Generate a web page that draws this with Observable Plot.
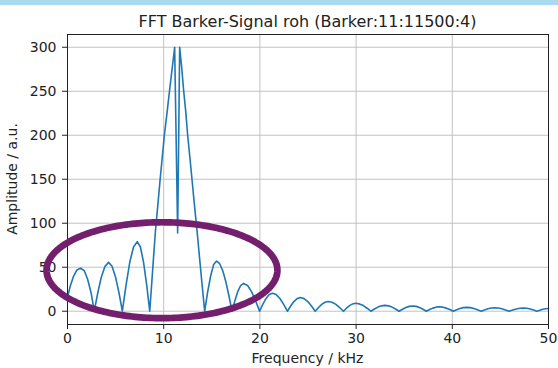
<!DOCTYPE html>
<html><head><meta charset="utf-8">
<script src="https://cdn.jsdelivr.net/npm/d3@7"></script>
<script src="https://cdn.jsdelivr.net/npm/@observablehq/plot@0.6"></script>
<style>
body{margin:0;background:#fff;}
#wrap{position:relative;width:558px;height:368px;overflow:hidden;background:#fff;}
#bar{position:absolute;left:0;top:0;width:558px;height:5px;background:#a8dbf0;}
#wrap svg{position:absolute;left:0;top:0;}
</style></head><body><div id="wrap"><div id="bar"></div></div>
<script>
const freqKHz = [
  0,0.3,0.6,0.95,1.35,1.75,2.1,2.45,2.78,
  3.15,3.52,3.9,4.27,4.63,4.99,5.35,5.7,
  6.09,6.48,6.86,7.25,7.58,7.9,8.23,8.55,
  8.75,8.95,9.14,9.4,9.63,9.85,10.07,10.35,10.6,10.88,11.14,11.45,11.66,11.87,12.08,12.3,12.49,12.72,12.94,13.2,13.47,13.75,14.0,14.26,
  14.57,14.88,15.19,15.5,15.82,16.14,16.46,16.78,17.1,
  17.4,17.7,18.0,18.3,18.72,19.13,19.55,19.97,
  20.3,20.64,20.97,21.3,21.69,22.08,22.47,22.86,
  23.2,23.53,23.87,24.2,24.59,24.98,25.36,25.75,
  26.09,26.43,26.76,27.1,27.5,27.9,28.29,28.69,
  29.0,29.32,29.63,29.95,30.35,30.75,31.14,31.54,
  31.9,32.27,32.63,33.0,33.37,33.73,34.1,34.47,
  34.83,35.17,35.53,35.9,36.25,36.6,36.95,37.3,
  37.64,37.98,38.32,38.66,39.02,39.38,39.74,40.1,
  40.45,40.8,41.15,41.5,41.87,42.25,42.62,43.0,
  43.35,43.7,44.05,44.4,44.78,45.15,45.53,45.9,
  46.28,46.65,47.03,47.4,47.75,48.1,48.45,48.8,
  49.1,49.4,49.7,50
];
const amplitude = [
  16,29,39,46.5,49,46,36,21,0,
  21,39,51,55.5,51,39,21,0,
  30,56,73,79,73,56,30,0,
  31,62,91,122,150,175,200,226,250,276,300,89,300,277,250,226,200,175,150,120,91,58,29,0,
  22,40,53,57,54,46,33.5,17.6,0,
  12,22.3,29.2,31.6,29.2,22.3,12,0,
  7.8,14.5,18.9,20.5,18.9,14.5,7.8,0,
  5.9,11,14.3,15.5,14.3,11,5.9,0,
  4.2,7.8,10.2,11,10.2,7.8,4.2,0,
  3.4,6.4,8.3,9,8.3,6.4,3.4,0,
  2.5,4.7,6.1,6.6,6.1,4.7,2.5,0,
  2.3,4.2,5.5,6,5.5,4.2,2.3,0,
  1.9,3.5,4.6,5,4.6,3.5,1.9,0,
  1.7,3.1,4.1,4.4,4.1,3.1,1.7,0,
  1.5,2.8,3.7,4,3.7,2.8,1.5,0,
  1.4,2.5,3.3,3.6,3.3,2.5,1.4,0,
  1.2,2.2,2.8,3.1
];
const xTicks = [0, 10, 20, 30, 40, 50];
const yTicks = [0, 50, 100, 150, 200, 250, 300];
const titleText = "FFT Barker-Signal roh (Barker:11:11500:4)";
const xLabel = "Frequency / kHz";
const yLabel = "Amplitude / a.u.";
// highlight ellipse annotation (data units): centre [kHz, amplitude], radii [kHz, amplitude]
const ellipseCenter = [9.82, 46.6];
const ellipseRadii = [12.0, 54.5];

const data = freqKHz.map((f, i) => ({f, a: amplitude[i]}));
const ell = d3.range(0, 241).map(i => {
  const t = i / 240 * 2 * Math.PI;
  return {x: ellipseCenter[0] + ellipseRadii[0] * Math.cos(t), y: ellipseCenter[1] + ellipseRadii[1] * Math.sin(t)};
});

const FONT = "DejaVu Sans";
const svg = Plot.plot({
  width: 558, height: 368,
  marginLeft: 67, marginRight: 10, marginTop: 34, marginBottom: 44,
  style: {fontFamily: FONT, background: "transparent", overflow: "visible"},
  x: {domain: [0, 50], axis: null},
  y: {domain: [-15.1, 314.5], axis: null},
  marks: [
    Plot.gridX(xTicks, {stroke: "#c2c2c2", strokeOpacity: 1, strokeWidth: 1}),
    Plot.gridY(yTicks, {stroke: "#c2c2c2", strokeOpacity: 1, strokeWidth: 1}),
    Plot.line(data, {x: "f", y: "a", stroke: "#1f77b4", strokeWidth: 1.6}),
    Plot.frame({stroke: "#222", strokeWidth: 1}),
    Plot.axisX(xTicks, {tickSize: 5, tickPadding: 4, fontSize: 14, label: null, stroke: "#222", fill: "#222", tickFormat: d => String(d)}),
    Plot.axisY(yTicks, {tickSize: 5, tickPadding: 6, fontSize: 14, label: null, stroke: "#222", fill: "#222", tickFormat: d => String(d)}),
    Plot.line(ell, {x: "x", y: "y", stroke: "#741f6e", strokeWidth: 6.7, clip: false})
  ]
});
document.getElementById("wrap").appendChild(svg);

const s = d3.select(svg);
s.append("text").attr("x", 307.5).attr("y", 26.5).attr("text-anchor", "middle")
  .attr("font-family", FONT).attr("font-size", 16).attr("fill", "#222").text(titleText);
s.append("text").attr("x", 307.5).attr("y", 363).attr("text-anchor", "middle")
  .attr("font-family", FONT).attr("font-size", 14).attr("fill", "#222").text(xLabel);
s.append("text").attr("transform", "translate(17,179) rotate(-90)").attr("text-anchor", "middle")
  .attr("font-family", FONT).attr("font-size", 14).attr("fill", "#222").text(yLabel);
</script></body></html>
